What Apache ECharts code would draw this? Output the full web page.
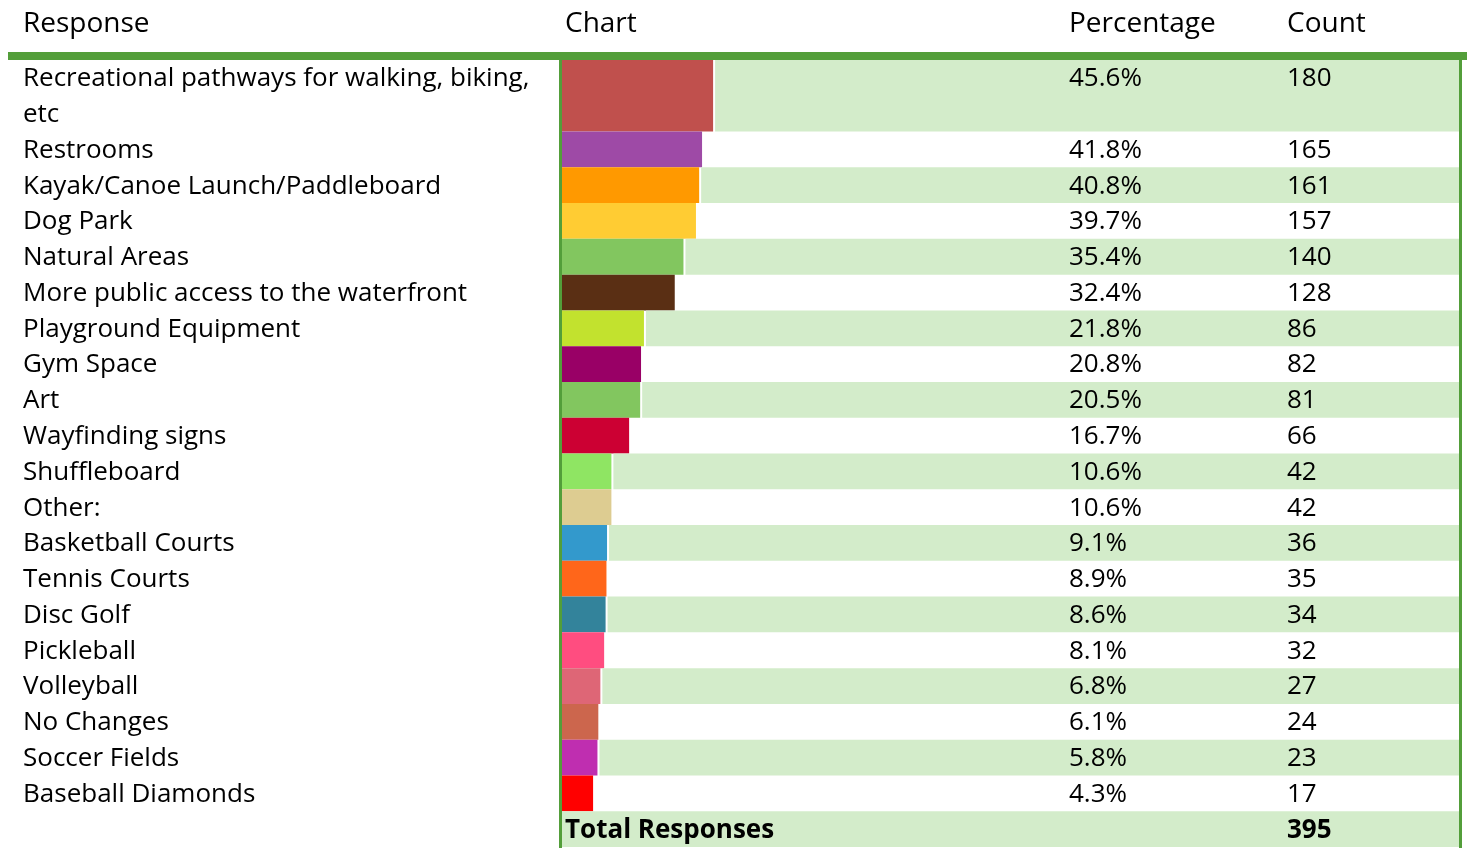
<!DOCTYPE html>
<html>
<head>
<meta charset="utf-8">
<script src="https://cdn.jsdelivr.net/npm/echarts@6/dist/echarts.min.js"></script>
<style>
  html, body { margin: 0; padding: 0; background: #fff; }
  #main { width: 1471px; height: 848px; }
</style>
</head>
<body>
<div id="main"></div>
<script>
  // 数据
  var responses = [
    'Recreational pathways for walking, biking,\netc',
    'Restrooms',
    'Kayak/Canoe Launch/Paddleboard',
    'Dog Park',
    'Natural Areas',
    'More public access to the waterfront',
    'Playground Equipment',
    'Gym Space',
    'Art',
    'Wayfinding signs',
    'Shuffleboard',
    'Other:',
    'Basketball Courts',
    'Tennis Courts',
    'Disc Golf',
    'Pickleball',
    'Volleyball',
    'No Changes',
    'Soccer Fields',
    'Baseball Diamonds'
  ];
  var percentages = [45.6, 41.8, 40.8, 39.7, 35.4, 32.4, 21.8, 20.8, 20.5, 16.7, 10.6, 10.6, 9.1, 8.9, 8.6, 8.1, 6.8, 6.1, 5.8, 4.3];
  var counts = [180, 165, 161, 157, 140, 128, 86, 82, 81, 66, 42, 42, 36, 35, 34, 32, 27, 24, 23, 17];
  var totalResponses = 395;
  var barColors = [
    '#C0504D', '#9E4AA6', '#FF9900', '#FFCC33', '#82C65F',
    '#5A2F14', '#C2E22E', '#990066', '#82C65F', '#CC0033',
    '#8FE563', '#DDCC91', '#3399CC', '#FF661A', '#33839B',
    '#FF4D80', '#DE6676', '#CC664D', '#BF2EB0', '#FF0000'
  ];

  var FONT = '"Open Sans", Lato, sans-serif';
  var FS = 26;
  var HEAD_FS = 28;
  var GREEN = '#539E3A';
  var LIGHT = '#D3ECCA';
  var X_MIN = -6.4, X_MAX = 302.3;
  var COL_LABEL = 23, COL_PCT = 1069, COL_COUNT = 1287;

  // 行位置（第一行两行高）
  var rows = [];
  var y = 0;
  responses.forEach(function (label, i) {
    var span = label.indexOf('\n') >= 0 ? 2 : 1;
    rows.push([percentages[i], y, y + span, counts[i], i]);
    y += span;
  });
  var totalRowStart = y;

  var myChart = echarts.init(document.getElementById('main'), null, { renderer: 'canvas' });

  function textEl(str, x, yy, bold) {
    return {
      type: 'text',
      style: {
        text: str,
        x: x,
        y: yy,
        fill: '#000',
        font: (bold ? 'bold ' : '') + FS + 'px ' + FONT,
        verticalAlign: 'middle',
        align: 'left'
      }
    };
  }

  function headEl(str, x) {
    return {
      type: 'text',
      x: x,
      y: 24,
      style: {
        text: str,
        font: HEAD_FS + 'px ' + FONT,
        fill: '#000',
        verticalAlign: 'middle'
      }
    };
  }

  var option = {
    animation: false,
    grid: { left: 562, top: 60, width: 897, height: 787 },
    xAxis: { type: 'value', min: X_MIN, max: X_MAX, show: false },
    yAxis: { type: 'value', min: 0, max: totalRowStart + 1, inverse: true, show: false },
    graphic: [
      { type: 'rect', shape: { x: 8, y: 52, width: 1459, height: 8 }, style: { fill: GREEN } },
      { type: 'rect', shape: { x: 559, y: 60, width: 3, height: 788 }, style: { fill: GREEN } },
      { type: 'rect', shape: { x: 1459, y: 60, width: 3, height: 788 }, style: { fill: GREEN } },
      headEl('Response', COL_LABEL),
      headEl('Chart', 565),
      headEl('Percentage', COL_PCT),
      headEl('Count', COL_COUNT)
    ],
    series: [
      {
        type: 'custom',
        data: rows,
        encode: { x: 0, y: [1, 2] },
        renderItem: function (params, api) {
          var i = api.value(4);
          var top = api.coord([X_MIN, api.value(1)]);
          var bottom = api.coord([X_MIN, api.value(2)]);
          var end = api.coord([api.value(0), api.value(1)])[0];
          var right = api.coord([X_MAX, api.value(1)])[0];
          var unit = api.size([0, 1])[1];
          var h = bottom[1] - top[1];
          var children = [];
          if (i % 2 === 0) {
            children.push({
              type: 'rect',
              shape: { x: end + 2, y: top[1], width: right - end - 2, height: h },
              style: { fill: LIGHT }
            });
          }
          children.push({
            type: 'rect',
            shape: { x: top[0], y: top[1], width: end - top[0], height: h },
            style: { fill: barColors[i] }
          });
          var lbl = textEl(responses[i], COL_LABEL, top[1] + h / 2 + 1);
          lbl.style.lineHeight = unit;
          children.push(lbl);
          var firstLine = top[1] + unit / 2 + 1;
          children.push(textEl(api.value(0).toFixed(1) + '%', COL_PCT, firstLine));
          children.push(textEl(String(api.value(3)), COL_COUNT, firstLine));
          return { type: 'group', children: children };
        }
      },
      {
        type: 'custom',
        data: [[X_MAX, totalRowStart, totalRowStart + 1, totalResponses]],
        encode: { x: 0, y: [1, 2] },
        renderItem: function (params, api) {
          var top = api.coord([X_MIN, api.value(1)]);
          var bottom = api.coord([X_MAX, api.value(2)]);
          var mid = (top[1] + bottom[1]) / 2 + 1;
          return {
            type: 'group',
            children: [
              { type: 'rect', shape: { x: top[0], y: top[1], width: bottom[0] - top[0], height: bottom[1] - top[1] }, style: { fill: LIGHT } },
              textEl('Total Responses', 565, mid, true),
              textEl(String(api.value(3)), COL_COUNT, mid, true)
            ]
          };
        }
      }
    ]
  };
  myChart.setOption(option);
  window.addEventListener('resize', function () {
    myChart.resize();
  });
</script>
</body>
</html>
